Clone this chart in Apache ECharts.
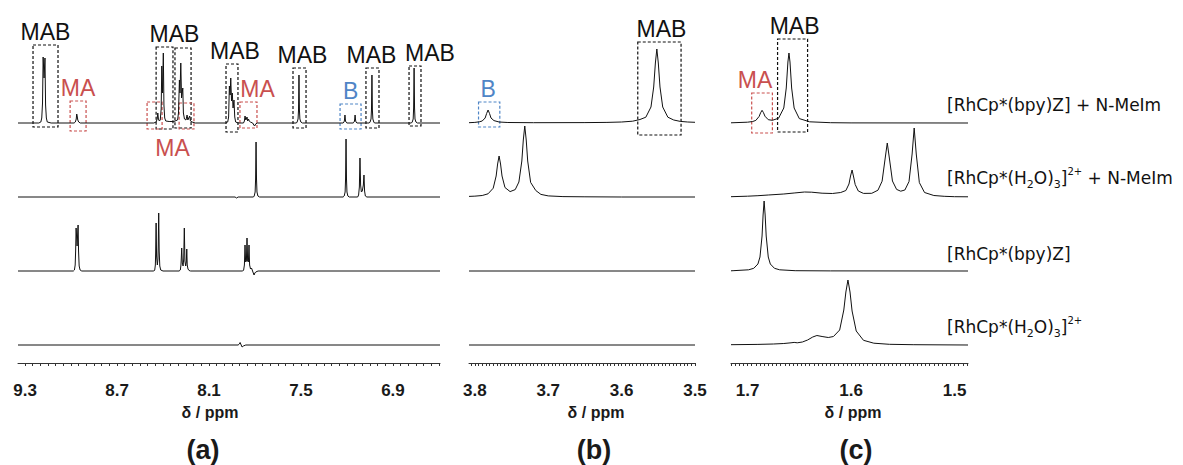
<!DOCTYPE html>
<html><head><meta charset="utf-8">
<script src="https://cdn.jsdelivr.net/npm/echarts@6/dist/echarts.min.js"></script>
<style>html,body{margin:0;padding:0;background:#fff}#c{width:1183px;height:465px}</style>
</head><body><div id="c"></div>
<script>
// ---------------- tick labels ----------------
const tickLabelsA = [9.3, 8.7, 8.1, 7.5, 6.9];
const tickLabelsB = [3.8, 3.7, 3.6, 3.5];
const tickLabelsC = [1.7, 1.6, 1.5];
const axisName = 'δ / ppm';
const panelNames = ['(a)', '(b)', '(c)'];

// ---------------- sample names (rows, top to bottom) ----------------
const sampleLabels = [
  '{n|[RhCp*(bpy)Z] + N-MeIm}',
  '{n|[RhCp*(H}{sub|2}{n|O)}{sub|3}{n|]}{sup|2+}{n| + N-MeIm}',
  '{n|[RhCp*(bpy)Z]}',
  '{n|[RhCp*(H}{sub|2}{n|O)}{sub|3}{n|]}{sup|2+}'
];

// ---------------- spectra [ppm, intensity] ----------------
// panel (a) 9.35 - 6.6 ppm
const specA1 = [[9.346,0],[9.21,0],[9.197,1],[9.191,5],[9.186,20],[9.182,66],[9.176,45],[9.170,65],[9.166,18],[9.161,5],[9.155,1],[9.13,0],[8.98,0],
 [8.972,1],[8.966,4],[8.963,9],[8.960,7],[8.956,3],[8.950,1],[8.94,0],
 [8.46,0],[8.445,1],[8.438,4],[8.434,10],[8.430,4],[8.424,2],[8.418,3],[8.412,14],[8.408,57],[8.403,30],[8.398,70],[8.394,18],[8.389,5],[8.382,2],[8.36,1.5],[8.33,1.5],[8.305,3],[8.299,10],[8.293,43],[8.289,30],[8.284,60],[8.279,25],[8.271,35],[8.267,10],[8.260,4],[8.250,3],[8.243,8],[8.238,3],[8.232,5],[8.226,7],[8.221,2],[8.21,1],[8.19,0],
 [7.99,0],[7.978,1],[7.972,6],[7.967,37],[7.962,28],[7.958,45],[7.953,22],[7.948,30],[7.943,15],[7.937,23],[7.932,6],[7.926,1],[7.91,0],
 [7.875,0],[7.869,2],[7.865,7],[7.860,3],[7.856,4],[7.852,6],[7.848,2],[7.842,4],[7.838,2],[7.83,1],[7.815,0],[7.808,-2],[7.802,-3],[7.796,-1],[7.785,0],
 [7.53,0],[7.525,1],[7.519,4],[7.516,13],[7.513,48],[7.510,13],[7.507,4],[7.501,1],[7.49,0],
 [7.225,0],[7.219,1],[7.216,3],[7.213,8],[7.210,3],[7.207,1],[7.20,0],[7.16,0],[7.153,1],[7.150,3],[7.147,8],[7.144,3],[7.141,1],[7.135,0],
 [7.055,0],[7.049,1],[7.043,4],[7.040,13],[7.037,48],[7.034,13],[7.031,4],[7.025,1],[7.02,0],
 [6.78,0],[6.774,1],[6.768,4],[6.765,15],[6.762,55],[6.759,15],[6.756,4],[6.750,1],[6.74,0],[6.593,0]];
const specA2 = [[9.346,0],[7.93,0],[7.92,-1],[7.91,0],[7.81,0],[7.805,1],[7.799,5],[7.796,18],[7.793,55],[7.790,18],[7.787,5],[7.781,1],[7.77,0],
 [7.225,0],[7.218,1],[7.212,5],[7.209,18],[7.206,58],[7.203,18],[7.200,5],[7.194,1],[7.185,0],
 [7.13,0],[7.124,2],[7.119,10],[7.115,39],[7.111,12],[7.106,5],[7.100,6],[7.093,12],[7.089,22],[7.085,6],[7.08,1],[7.07,0],[6.593,0]];
const specA3 = [[9.346,0],[8.985,0],[8.978,1],[8.973,6],[8.970,20],[8.967,43],[8.9605,25],[8.954,46],[8.951,20],[8.947,5],[8.941,1],[8.93,0],
 [8.46,0],[8.454,1],[8.450,6],[8.448,18],[8.445,48],[8.442,15],[8.437,6],[8.433,12],[8.431,25],[8.428,58],[8.425,20],[8.421,5],[8.415,1],[8.40,0],
 [8.295,0],[8.287,1],[8.283,6],[8.281,12],[8.278,23],[8.274,8],[8.269,5],[8.265,12],[8.261,43],[8.257,10],[8.252,5],[8.248,9],[8.245,22],[8.242,6],[8.237,2],[8.23,0.5],[8.22,0],
 [7.88,0],[7.874,1],[7.869,6],[7.865,26],[7.861,9],[7.856,10],[7.852,33],[7.848,10],[7.843,9],[7.839,26],[7.835,6],[7.829,2],[7.823,3],[7.818,1],[7.811,-2],[7.806,-4],[7.801,-2],[7.795,-1],[7.78,0],[6.593,0]];
const specA4 = [[9.346,0],[7.91,0],[7.902,1],[7.897,2.5],[7.890,0],[7.884,-2],[7.876,-1],[7.86,0],[6.593,0]];

// panel (b) 3.81 - 3.5 ppm
const specB1 = [[3.808,0.3],[3.80,0.6],[3.794,1.2],[3.79,2],[3.786,5],[3.784,9.5],[3.782,13],[3.780,9.5],[3.778,5],[3.774,2.4],[3.767,1],[3.755,0.5],[3.72,0.3],[3.65,0.4],[3.62,0.6],[3.60,1],[3.585,1.8],[3.575,3.5],[3.567,5.8],[3.560,16],[3.5563,36],[3.554,60],[3.552,74],[3.550,60],[3.5477,36],[3.544,16],[3.537,5.8],[3.529,3],[3.52,1.6],[3.51,1],[3.5,0.7]];
const specB2 = [[3.808,0.6],[3.80,0.85],[3.79,1.5],[3.782,3.2],[3.775,8.8],[3.771,21],[3.769,33],[3.767,41],[3.765,33],[3.763,21],[3.759,9.5],[3.752,5.4],[3.745,7.4],[3.740,15],[3.736,36],[3.734,57],[3.732,71],[3.730,57],[3.728,36],[3.724,14.6],[3.717,6.5],[3.71,2.6],[3.70,1.1],[3.68,0.4],[3.65,0.2],[3.6,0],[3.5,0]];
const specB3 = [[3.808,0],[3.5,0]];
const specB4 = [[3.808,0],[3.5,0]];

// panel (c) 1.72 - 1.49 ppm
const specC1 = [[1.716,0.2],[1.70,0.8],[1.695,1.5],[1.692,2.6],[1.6888,6.6],[1.6874,10.2],[1.686,12.7],[1.6846,10.3],[1.6832,6.8],[1.680,3.3],[1.676,2.7],[1.670,4.8],[1.665,15],[1.6626,35],[1.661,61],[1.660,70],[1.659,61],[1.6574,35],[1.655,15],[1.650,4.4],[1.640,1.2],[1.62,0.3],[1.60,0.1],[1.487,0]];
const specC2 = [[1.716,0.3],[1.70,0.8],[1.69,1.3],[1.68,2],[1.665,3],[1.655,4],[1.645,5],[1.638,4.8],[1.628,3.8],[1.618,3.5],[1.610,4.5],[1.605,6.5],[1.602,13],[1.6005,21],[1.599,27],[1.5975,20],[1.596,12.5],[1.593,6],[1.588,3.6],[1.580,3.7],[1.574,6.8],[1.570,15.8],[1.567,39],[1.565,54],[1.563,39],[1.560,16],[1.556,7.6],[1.552,5.8],[1.548,7],[1.544,15.4],[1.541,43],[1.539,69],[1.537,43],[1.534,14.4],[1.529,4.5],[1.52,1.5],[1.51,0.7],[1.50,0.3],[1.487,0.2]];
const specC3 = [[1.716,0.2],[1.714,0.3],[1.699,1.2],[1.694,2.7],[1.690,7],[1.688,14],[1.686,35],[1.685,56],[1.684,70],[1.683,56],[1.682,35],[1.680,14],[1.678,7],[1.674,2.7],[1.669,1.2],[1.654,0.3],[1.62,0.1],[1.487,0]];
const specC4 = [[1.716,0.3],[1.69,0.6],[1.675,1],[1.665,1.5],[1.658,2.2],[1.655,2.6],[1.652,2.2],[1.647,3],[1.642,5],[1.637,8],[1.633,9.5],[1.628,8.5],[1.622,7.5],[1.617,8.5],[1.611,15],[1.607,35],[1.605,53],[1.603,65],[1.601,53],[1.599,34],[1.595,14],[1.588,4.7],[1.578,1.8],[1.563,0.7],[1.54,0.3],[1.487,0]];

// ---------------- annotation boxes (ppm range, intensity range) ----------------
const boxesA = [
  {text:'MAB', from:9.248, to:9.085, top:78, bottom:-4},
  {text:'MA',  from:9.006, to:8.902, top:22, bottom:-8},
  {text:'MAB', from:8.445, to:8.335, top:76, bottom:-6},
  {text:'',    kind:'MAB', from:8.322, to:8.217, top:75, bottom:-5},
  {text:'MA',  from:8.504, to:8.406, top:21, bottom:-6},
  {text:'',    kind:'MA', from:8.295, to:8.198, top:20, bottom:-6},
  {text:'MAB', from:7.989, to:7.911, top:59, bottom:-9},
  {text:'MA',  from:7.898, to:7.787, top:21, bottom:-5},
  {text:'MAB', from:7.552, to:7.467, top:55, bottom:-5},
  {text:'B',   from:7.245, to:7.108, top:19, bottom:-6},
  {text:'MAB', from:7.076, to:6.991, top:55, bottom:-5},
  {text:'MAB', from:6.795, to:6.717, top:57, bottom:-3}
];
const boxesB = [
  {text:'B',   from:3.795, to:3.766, top:21, bottom:-4},
  {text:'MAB', from:3.578, to:3.519, top:81, bottom:-12}
];
const boxesC = [
  {text:'MA',  from:1.696, to:1.676, top:30, bottom:-10},
  {text:'MAB', from:1.671, to:1.642, top:84, bottom:-9}
];

// ---------------- layout / style (not data) ----------------
const kindColor = {MAB:'#111111', MA:'#c9504f', B:'#4f85c6'};
const labelTweaksA = [[0,'top'],[0,'top'],[10,'top'],[0,'top'],[18,'bottom'],[0,'top'],[3,'top'],[9,'top'],[3,'top'],[0,'top'],[-1,'top'],[15,'top']];
const labelTweaksB = [[-1,'top'],[2,'top']];
const labelTweaksC = [[-7,'top'],[2,'top']];
const baselines = [[123,197,271,345],[123,197,271,345],[123,197,271,345]];
const panels = [
  {left:18, right:440, min:6.593, max:9.346, labels:tickLabelsA, tickStep:0.05, tickFrom:6.6,
   specs:[specA1,specA2,specA3,specA4], boxes:boxesA, tweaks:labelTweaksA},
  {left:469, right:695, min:3.5, max:3.808, labels:tickLabelsB, tickStep:0.005, tickFrom:3.5,
   specs:[specB1,specB2,specB3,specB4], boxes:boxesB, tweaks:labelTweaksB},
  {left:731, right:968, min:1.487, max:1.716, labels:tickLabelsC, tickStep:0.004, tickFrom:1.488,
   specs:[specC1,specC2,specC3,specC4], boxes:boxesC, tweaks:labelTweaksC}
];
const Y_MIN = -18, Y_MAX = 110;

const grids = [], xAxes = [], yAxes = [], series = [];
panels.forEach((p, pi) => {
  const ticks = [];
  for (let v = p.tickFrom; v <= p.max + 1e-9; v += p.tickStep) ticks.push(Math.round(v * 10000) / 10000);
  p.specs.forEach((spec, ri) => {
    const idx = grids.length;
    const base = baselines[pi][ri];
    grids.push({left:p.left, width:p.right - p.left, top:base - Y_MAX, height:Y_MAX - Y_MIN});
    const isBottom = ri === 3;
    xAxes.push({
      type:'value', gridIndex:idx, min:p.min, max:p.max, inverse:true, show:isBottom,
      splitLine:{show:false},
      axisLine:{show:true, onZero:false, lineStyle:{color:'#333', width:1}},
      axisTick:{show:true, customValues:ticks, length:3, inside:false, lineStyle:{color:'#333', width:1}},
      axisLabel:{show:true, customValues:p.labels, margin:19, formatter:v => Number(v).toFixed(1),
        color:'#1a1a1a', fontFamily:'Liberation Sans, Arial', fontWeight:'bold', fontSize:17}
    });
    yAxes.push({type:'value', gridIndex:idx, min:Y_MIN, max:Y_MAX, show:false, splitLine:{show:false}});
    const s = {
      type:'line', xAxisIndex:idx, yAxisIndex:idx, data:spec, symbol:'none', showSymbol:false,
      silent:true, clip:false, lineStyle:{color:'#111', width:1}, animation:false
    };
    if (ri === 0) {
      s.markArea = {
        silent:true, animation:false,
        itemStyle:{color:'rgba(0,0,0,0)', borderWidth:1.2, borderType:[3,2]},
        data:p.boxes.map((b, bi) => {
          const kind = b.kind || b.text;
          const tw = p.tweaks[bi];
          return [
            {name:b.text, xAxis:b.from, yAxis:b.top,
             itemStyle:{color:'rgba(0,0,0,0)', borderColor:kindColor[kind], borderWidth:1.2, borderType:[3,2]},
             label:{show:!!b.text, position:tw[1], distance:tw[1]==='bottom'?7:1, offset:[tw[0],0],
               color:kindColor[kind], fontSize:23, fontFamily:'Liberation Sans, Arial'}},
            {xAxis:b.to, yAxis:b.bottom}
          ];
        })
      };
    }
    series.push(s);
  });
});

const graphic = [];
const nameX = [210, 596, 853];
const panelX = [203, 594, 856];
panels.forEach((p, pi) => {
  graphic.push({type:'text', x:nameX[pi], y:412, style:{text:axisName, align:'center', verticalAlign:'middle',
    fill:'#1a1a1a', font:'bold 16px "Liberation Sans", Arial'}});
  graphic.push({type:'text', x:panelX[pi], y:450, style:{text:panelNames[pi], align:'center', verticalAlign:'middle',
    fill:'#1a1a1a', font:'bold 27px "Liberation Sans", Arial'}});
});
const labelY = [105, 178, 254, 327];
sampleLabels.forEach((t, i) => {
  graphic.push({type:'text', x:947, y:labelY[i], style:{
    text:t, align:'left', verticalAlign:'middle', fill:'#111',
    rich:{
      n:{fontFamily:'DejaVu Sans', fontSize:17, lineHeight:24, verticalAlign:'middle', fill:'#111'},
      sub:{fontFamily:'DejaVu Sans', fontSize:11, lineHeight:12, verticalAlign:'bottom', fill:'#111'},
      sup:{fontFamily:'DejaVu Sans', fontSize:10, lineHeight:12, verticalAlign:'top', fill:'#111'}
    }}});
});

const chart = echarts.init(document.getElementById('c'), null, {renderer:'svg'});
chart.setOption({
  animation:false, backgroundColor:'#fff',
  grid:grids, xAxis:xAxes, yAxis:yAxes, series:series, graphic:graphic
});
</script></body></html>
